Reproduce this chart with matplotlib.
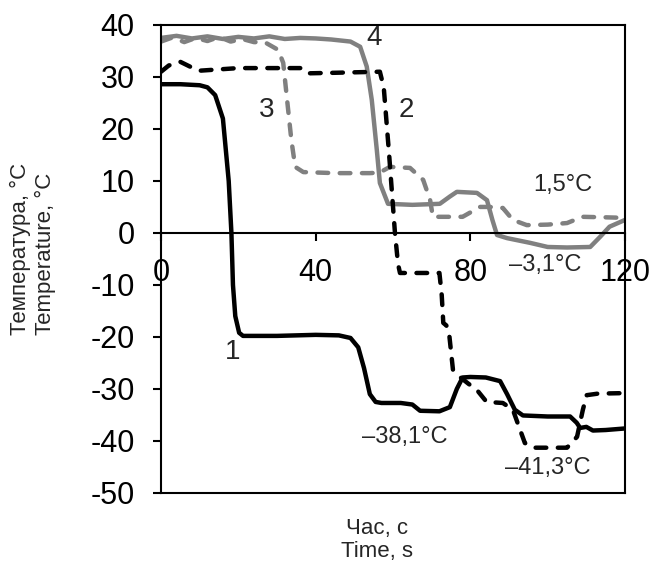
import matplotlib
matplotlib.use("Agg")
import matplotlib.pyplot as plt

plt.rcParams['font.family'] = ['Liberation Sans', 'DejaVu Sans']
plt.rcParams['axes.unicode_minus'] = False

# Curve 1 (black solid)
x1 = [0, 5, 10, 12, 14, 16, 17.5, 18.2, 18.6, 19.2, 20.2, 21.2, 30, 40, 46, 49, 51, 52.5, 54, 55.5, 57, 62, 65, 67, 72, 74.7, 76.5, 78, 80, 84, 87.7, 89.5, 91.5, 93.6, 100, 105.8, 107.5, 108.4, 110, 111.7, 115, 120]
y1 = [28.6, 28.6, 28.4, 28.0, 26.5, 22, 10, 0, -10, -16, -19.2, -19.8, -19.8, -19.6, -19.7, -20.2, -22, -26, -31, -32.5, -32.7, -32.7, -33, -34.2, -34.3, -33.5, -30, -27.8, -27.7, -27.8, -28.5, -31, -34, -35.1, -35.3, -35.3, -36.5, -37.5, -37.3, -38.0, -37.9, -37.6]

# Curve 2 (black dashed)
x2 = [0, 2, 5, 8, 10, 20, 30, 36.8, 38.5, 45, 56.6, 57.6, 59, 60.5, 61.3, 61.8, 65, 72, 72.6, 73, 73.8, 74.6, 75.5, 77.3, 79.5, 81.7, 84.2, 88.4, 91, 92.2, 94.1, 96.3, 100, 105, 107.6, 109.1, 110.1, 113, 120]
y2 = [31.0, 32.2, 32.9, 31.8, 31.2, 31.7, 31.7, 31.7, 30.7, 30.8, 31.0, 28, 15, 0, -6, -7.7, -7.7, -7.7, -12, -17.3, -17.8, -20, -26.3, -27.7, -29, -30.2, -32.5, -32.7, -34, -36.5, -40.4, -41.3, -41.3, -41.3, -39.2, -34, -31.2, -30.9, -30.8]

# Curve 3 (gray dashed)
x3 = [0, 3, 6, 9, 12, 15, 18, 21, 24, 27, 30.3, 31.6, 32.6, 33.7, 34.7, 36.8, 45, 54, 56.5, 59.2, 64.4, 67.8, 69.6, 70.3, 74, 78, 82.5, 85, 88.4, 91, 94.6, 100, 105, 109, 115, 120]
y3 = [36.8, 37.6, 36.7, 37.5, 36.9, 37.7, 36.8, 37.3, 36.7, 36.6, 35.2, 32.7, 25.6, 17.9, 12.7, 11.7, 11.5, 11.5, 11.6, 12.7, 12.5, 10.2, 6.3, 3.1, 3.1, 3.1, 5.0, 5.0, 4.8, 2.5, 1.5, 1.6, 1.9, 3.1, 3.0, 2.9]

# Curve 4 (gray solid)
x4 = [0, 4, 8, 12, 16, 20, 24, 28, 32, 36, 40, 44, 49, 51.5, 53.2, 54.5, 55.8, 56.6, 58.7, 65, 72.1, 74.7, 76.5, 81.7, 84.3, 85.7, 86.9, 89.5, 95.4, 100, 105, 111, 113.5, 116, 120]
y4 = [37.5, 37.9, 37.4, 37.8, 37.3, 37.7, 37.4, 37.8, 37.3, 37.5, 37.4, 37.2, 36.8, 35.8, 32.0, 25.6, 16.0, 9.6, 5.6, 5.4, 5.6, 7.0, 7.9, 7.7, 6.3, 2.5, -0.4, -1.0, -1.9, -2.7, -2.8, -2.7, -0.8, 1.2, 2.5]

xticks = [0, 40, 80, 120]
yticks = [40, 30, 20, 10, 0, -10, -20, -30, -40, -50]

gray = '#808080'
txt = '#262626'

fig = plt.figure(figsize=(6.52, 5.64), dpi=100)
ax = fig.add_axes([0.247, 0.126, 0.7116, 0.8298])

lw = 3.2
dash = (0, (2.4, 2.6))
ax.plot(x4, y4, color=gray, lw=lw, solid_joinstyle='round', zorder=2)
ax.plot(x3, y3, color=gray, lw=lw, linestyle=dash, dash_capstyle='round', zorder=2)
ax.plot(x2, y2, color='black', lw=lw, linestyle=dash, dash_capstyle='round', zorder=3)
ax.plot(x1, y1, color='black', lw=lw, solid_joinstyle='round', zorder=4)

ax.set_xlim(0, 120)
ax.set_ylim(-50, 40)

for s in ['left', 'right', 'top']:
    ax.spines[s].set_linewidth(1.5)
ax.spines['bottom'].set_position(('data', 0))
ax.spines['bottom'].set_linewidth(1.5)
ax.plot([0, 120], [-50, -50], color='black', lw=1.5, clip_on=False, zorder=5)

ax.set_xticks(xticks)
ax.set_xticklabels([str(v) for v in xticks])
ax.set_yticks(yticks)
ax.set_yticklabels([str(v) for v in yticks])
ax.tick_params(axis='both', direction='out', length=6, width=1.5, labelsize=22, labelcolor='black')
ax.tick_params(axis='x', pad=12)
ax.tick_params(axis='y', pad=13)

fs_num = 20
fs_ann = 17
ax.text(55, 37.5, '4', fontsize=fs_num, ha='center', va='center', color=txt)
ax.text(63.5, 23.7, '2', fontsize=fs_num, ha='center', va='center', color=txt)
ax.text(27.4, 23.7, '3', fontsize=fs_num, ha='center', va='center', color=txt)
ax.text(18.4, -22.9, '1', fontsize=fs_num, ha='center', va='center', color=txt)
ax.text(104, 9.2, '1,5°C', fontsize=fs_ann, ha='center', va='center', color=txt)
ax.text(99.3, -6.2, '–3,1°C', fontsize=fs_ann, ha='center', va='center', color=txt)
ax.text(63, -39.3, '–38,1°C', fontsize=fs_ann, ha='center', va='center', color=txt)
ax.text(100, -45.3, '–41,3°C', fontsize=fs_ann, ha='center', va='center', color=txt)

fig.text(0.05, 0.558, 'Температура, °C\nTemperature, °C', rotation=90,
         ha='center', va='center', fontsize=16, color=txt, linespacing=1.25,
         multialignment='left')
fig.text(0.578, 0.0426, 'Час, с\nTime, s', ha='center', va='center',
         fontsize=16, color=txt, linespacing=1.15)

fig.savefig('out.png', dpi=100)
